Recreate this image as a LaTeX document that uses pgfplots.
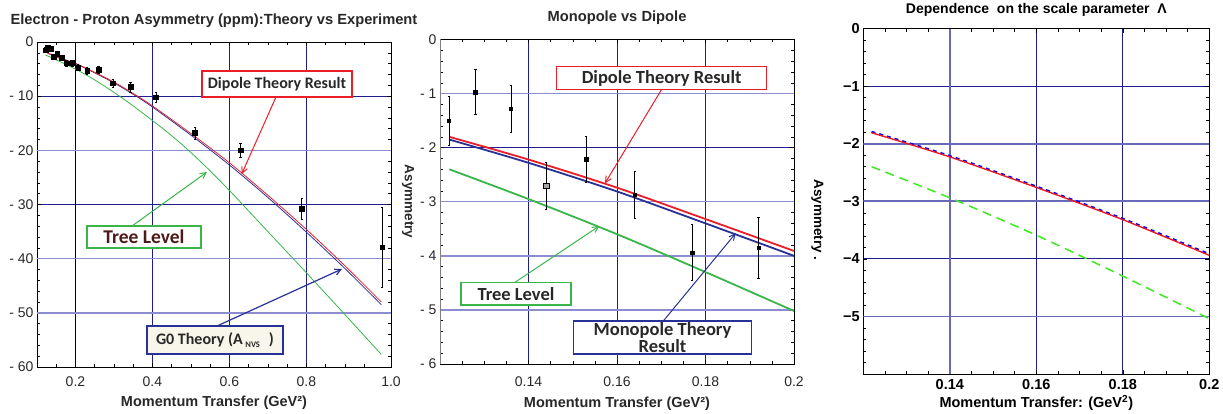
\documentclass[border=0pt]{standalone}
\usepackage{pgfplots}
\pgfplotsset{compat=1.18}
\usepackage{fontspec}
\setmainfont{Liberation Sans}
\newfontfamily\calfont{Carlito}
\usetikzlibrary{arrows.meta}
\definecolor{gnavy}{RGB}{30,30,140}
\definecolor{glav}{RGB}{105,105,185}
\definecolor{glavl}{RGB}{140,140,208}
\definecolor{cred}{RGB}{235,30,40}
\definecolor{cblue}{RGB}{40,50,150}
\definecolor{cgreen}{RGB}{57,181,74}
\definecolor{cgreenb}{RGB}{60,235,30}
\definecolor{cream}{RGB}{248,246,234}
\definecolor{treebrown}{RGB}{80,25,25}
\definecolor{txt}{RGB}{40,40,40}
\tikzset{lav/.style={glav, line width=1.7pt}, lavl/.style={glavl, line width=1.5pt}}
\pgfplotsset{
  base/.style={scale only axis, anchor=south west,
    axis line style={black,line width=0.7pt},
    tick align=inside, major tick length=4pt, minor tick length=3pt,
    tick style={black,line width=0.5pt},
    xmajorgrids, ymajorgrids,
    major grid style={gnavy,line width=0.8pt},
    ticklabel style={font=\fontsize{14}{16}\selectfont, text=txt},
  },
  errs/.style={only marks, mark=square*, black,
    error bars/.cd, y dir=both, y explicit,
    error bar style={black,line width=0.5pt},
    error mark options={rotate=90,mark size=1.2pt,black,line width=0.5pt}},
}
\pgfplotstableread{
x y e
0.122 -1.50 0.45
0.128 -0.97 0.42
0.136 -1.28 0.43
0.144 -2.70 0.43
0.153 -2.21 0.43
0.164 -2.87 0.44
0.177 -3.94 0.52
0.192 -3.85 0.57
0.207 -4.70 0.6
0.230 -5.30 0.6
0.260 -5.10 0.7
0.297 -7.60 0.8
0.343 -8.30 0.9
0.409 -10.2 0.9
0.510 -16.8 1.1
0.629 -20.0 1.3
0.788 -30.8 2.0
0.997 -37.9 7.3
}\dataA
\pgfplotstableread{
x y e
0.122 -1.50 0.45
0.128 -0.97 0.42
0.136 -1.28 0.43
0.153 -2.21 0.43
0.164 -2.87 0.44
0.177 -3.94 0.52
0.192 -3.85 0.57
}\dataB
\pgfplotstableread{
x y e
0.144 -2.70 0.43
}\dataBbig
\begin{document}
\begin{tikzpicture}
\useasboundingbox (0,0) rectangle (1223pt,414pt);
% ---------------- Panel 1
\begin{axis}[base, at={(37pt,47pt)}, width=354pt, height=325pt,
  xmin=0.1, xmax=1.02, ymin=-60, ymax=0,
  xtick={0.2,0.4,0.6,0.8,1.02}, xticklabels={0.2,0.4,0.6,0.8,1.0},
  ytick={-60,-50,-40,-30,-20,-10,0}, yticklabels={- 60,- 50,- 40,- 30,- 20,- 10,0},
  minor xtick={0.15,0.25,0.3,0.35,0.45,0.5,0.55,0.65,0.7,0.75,0.85,0.9,0.95},
  minor ytick={-58,-56,...,-2},
  xticklabel style={anchor=center, yshift=-15pt},
  title={Electron - Proton Asymmetry (ppm):Theory vs Experiment},
  title style={at={(axis description cs:0.5,1)}, anchor=center, yshift=15pt, font=\bfseries\fontsize{14.7}{16}\selectfont, text=txt},
  xlabel={Momentum Transfer (GeV²)},
  xlabel style={at={(axis description cs:0.5,0)}, anchor=center, yshift=-36pt, font=\bfseries\fontsize{14.5}{16}\selectfont, text=txt},
]
\draw[black, line width=0.7pt] (axis cs:0.2,-60) -- (axis cs:0.2,0);
\draw[lavl] (axis cs:0.1,-20) -- (axis cs:1.02,-20);
\draw[lavl] (axis cs:0.1,-40) -- (axis cs:1.02,-40);
\draw[lavl] (axis cs:0.1,-50) -- (axis cs:1.02,-50);
\addplot[cgreen, line width=0.8pt, smooth] coordinates {
(0.122,-2.4) (0.15,-3.3) (0.2,-5.0) (0.25,-7.0) (0.3,-9.3) (0.35,-11.8) (0.4,-14.5)
(0.45,-17.3) (0.5,-20.4) (0.55,-23.8) (0.6,-27.4) (0.65,-31.2) (0.7,-35.0)
(0.8,-42.6) (0.9,-50.3) (0.995,-57.7)};
\addplot[cblue, line width=0.8pt, smooth] coordinates {
(0.122,-1.85) (0.15,-2.75) (0.2,-4.0) (0.25,-5.7) (0.3,-7.55) (0.35,-9.65) (0.4,-12.0)
(0.5,-17.2) (0.6,-22.7) (0.7,-28.7) (0.8,-35.1) (0.9,-41.8) (0.995,-48.5)};
\addplot[cred, line width=0.8pt, smooth] coordinates {
(0.122,-1.8) (0.15,-2.7) (0.2,-3.95) (0.25,-5.6) (0.3,-7.4) (0.35,-9.5) (0.4,-11.8)
(0.5,-16.9) (0.6,-22.3) (0.7,-28.3) (0.8,-34.6) (0.9,-41.3) (0.995,-48.0)};
\addplot[mark size=2.3pt, errs] table[x=x,y=y,y error=e] {\dataA};
\end{axis}
% ---------------- Panel 2
\begin{axis}[base, at={(440pt,50pt)}, width=354pt, height=324.5pt,
  xmin=0.12, xmax=0.2, ymin=-6, ymax=0,
  xtick={0.14,0.16,0.18,0.2}, xticklabels={0.14,0.16,0.18,0.2},
  ytick={-6,-5,-4,-3,-2,-1,0}, yticklabels={- 6,- 5,- 4,- 3,- 2,- 1,0},
  minor xtick={0.125,0.13,0.135,0.145,0.15,0.155,0.165,0.17,0.175,0.185,0.19,0.195},
  minor ytick={-5.8,-5.6,...,-0.2},
  xticklabel style={anchor=center, yshift=-18pt},
  title={Monopole vs Dipole},
  title style={at={(axis description cs:0.5,1)}, anchor=center, yshift=15.5pt, font=\bfseries\fontsize{14.7}{16}\selectfont, text=txt},
  xlabel={Momentum Transfer (GeV²)},
  xlabel style={at={(axis description cs:0.5,0)}, anchor=center, yshift=-40pt, font=\bfseries\fontsize{14.5}{16}\selectfont, text=txt},
  ylabel={Asymmetry},
  ylabel style={at={(axis description cs:-0.09,0.5)}, anchor=center, rotate=180, font=\bfseries\fontsize{13.5}{16}\selectfont, text=txt},
]
\draw[lavl] (axis cs:0.12,-1) -- (axis cs:0.2,-1);
\draw[lavl] (axis cs:0.12,-3) -- (axis cs:0.2,-3);
\draw[lavl] (axis cs:0.12,-4) -- (axis cs:0.2,-4);
\draw[lavl] (axis cs:0.12,-5) -- (axis cs:0.2,-5);
\draw[gray, line width=1.4pt] (axis cs:0.12,-6) -- (axis cs:0.12,0);
\addplot[cgreen, line width=1.8pt, smooth] coordinates {
(0.1221,-2.40) (0.14,-2.95) (0.16,-3.60) (0.18,-4.30) (0.2,-5.02)};
\addplot[cblue, line width=1.8pt, smooth] coordinates {
(0.1221,-1.85) (0.14,-2.28) (0.16,-2.81) (0.18,-3.40) (0.2,-4.00)};
\addplot[cred, line width=1.8pt, smooth] coordinates {
(0.1221,-1.80) (0.14,-2.22) (0.16,-2.74) (0.18,-3.32) (0.2,-3.91)};
\addplot[mark size=1.8pt, errs] table[x=x,y=y,y error=e] {\dataB};
\addplot[mark size=2.8pt, mark options={fill=gray!70,draw=black}, errs] table[x=x,y=y,y error=e] {\dataBbig};
\end{axis}
% ---------------- Panel 3
\begin{axis}[base, at={(863.3pt,40pt)}, width=346pt, height=345.5pt,
  xmin=0.12, xmax=0.2, ymin=-6, ymax=0,
  xtick={0.14,0.16,0.18,0.2}, xticklabels={0.14,0.16,0.18,0.2},
  ytick={-5,-4,-3,-2,-1,0}, yticklabels={−5,−4,−3,−2,−1,0},
  minor xtick={0.125,0.13,0.135,0.145,0.15,0.155,0.165,0.17,0.175,0.185,0.19,0.195},
  minor ytick={-5.8,-5.6,...,-0.2},
  ticklabel style={font=\bfseries\fontsize{14.5}{16}\selectfont, text=black},
  xticklabel style={anchor=center, yshift=-11pt},
  title={Dependence\ \ on the scale parameter\ \ Λ},
  title style={at={(axis description cs:0.5,1)}, anchor=center, yshift=12.5pt, font=\bfseries\fontsize{14}{16}\selectfont},
  xlabel={Momentum Transfer: (GeV\textsuperscript{2})},
  xlabel style={at={(axis description cs:0.5,0)}, anchor=center, yshift=-29pt, font=\bfseries\fontsize{14.5}{16}\selectfont},
  ylabel={Asymmetry .},
  ylabel style={at={(axis description cs:-0.133,0.445)}, anchor=center, rotate=180, font=\bfseries\fontsize{13.5}{16}\selectfont},
]
\draw[lav] (axis cs:0.14,-6) -- (axis cs:0.14,0);
\draw[lav] (axis cs:0.12,-2) -- (axis cs:0.2,-2);
\draw[lav] (axis cs:0.12,-3) -- (axis cs:0.2,-3);
\draw[lav] (axis cs:0.12,-5) -- (axis cs:0.2,-5);
\addplot[cgreenb, line width=1.5pt, dash pattern=on 9pt off 6pt, smooth] coordinates {
(0.1219,-2.40) (0.14,-2.94) (0.16,-3.59) (0.18,-4.30) (0.2,-5.04)};
\addplot[blue, line width=2.2pt, dash pattern=on 4pt off 4pt, smooth] coordinates {
(0.1219,-1.795) (0.14,-2.215) (0.16,-2.745) (0.18,-3.305) (0.2,-3.92)};
\addplot[cred, line width=1.4pt, smooth] coordinates {
(0.1219,-1.81) (0.14,-2.23) (0.16,-2.76) (0.18,-3.32) (0.2,-3.94)};
\end{axis}
% ---------------- Annotations panel 1
\draw[cred, line width=1pt, -{Straight Barb[length=6pt,width=6pt]}] (276pt,317pt) -- (241.7pt,240pt);
\draw[cgreen, line width=1pt, -{Straight Barb[length=6pt,width=6pt]}] (132pt,188pt) -- (207pt,242pt);
\draw[cblue, line width=1.2pt, -{Straight Barb[length=6pt,width=6pt]}] (217pt,88pt) -- (342pt,145pt);
\node[draw=cred, line width=1.2pt, fill=white, minimum width=150pt, minimum height=26pt, inner sep=0pt, text=txt,
  font=\calfont\bfseries\fontsize{16}{18}\selectfont] at (277pt,330pt) {Dipole Theory Result};
\node[draw=cgreen, line width=1.2pt, fill=white, minimum width=114pt, minimum height=22pt, inner sep=0pt, text=treebrown,
  font=\calfont\bfseries\fontsize{19.5}{20}\selectfont] at (144pt,177pt) {Tree Level};
\node[draw=cblue, line width=1.2pt, fill=cream, minimum width=136pt, minimum height=28pt, inner sep=0pt, text=txt,
  font=\calfont\bfseries\fontsize{16}{18}\selectfont] at (215pt,74pt) {G0 Theory (A\,\raisebox{-2.5pt}{\fontsize{8.5}{9}\selectfont NVS}\hspace{9pt})};
% ---------------- Annotations panel 2
\draw[cred, line width=1pt, -{Straight Barb[length=6pt,width=6pt]}] (661.7pt,324.7pt) -- (605pt,230.7pt);
\draw[cgreen, line width=1pt, -{Straight Barb[length=6pt,width=6pt]}] (515pt,131.7pt) -- (599.3pt,188pt);
\draw[cblue, line width=1pt, -{Straight Barb[length=6pt,width=6pt]}] (663.3pt,93pt) -- (735.7pt,180.7pt);
\node[draw=cred, line width=1.2pt, fill=white, minimum width=210pt, minimum height=22.6pt, inner sep=0pt, text=txt,
  font=\calfont\bfseries\fontsize{18.5}{20}\selectfont] at (661.7pt,336pt) {Dipole Theory Result};
\node[draw=cgreen, line width=1.2pt, fill=white, minimum width=110pt, minimum height=22.7pt, inner sep=0pt, text=txt,
  font=\calfont\bfseries\fontsize{18.5}{20}\selectfont] at (516pt,120.3pt) {Tree Level};
\node[draw=cblue, line width=1.2pt, fill=white, minimum width=178pt, minimum height=33pt, inner sep=0pt, text=txt, align=center,
  font=\calfont\bfseries\fontsize{18.5}{15.5}\selectfont] at (662.5pt,76.5pt) {Monopole Theory\\Result};
\end{tikzpicture}
\end{document}
